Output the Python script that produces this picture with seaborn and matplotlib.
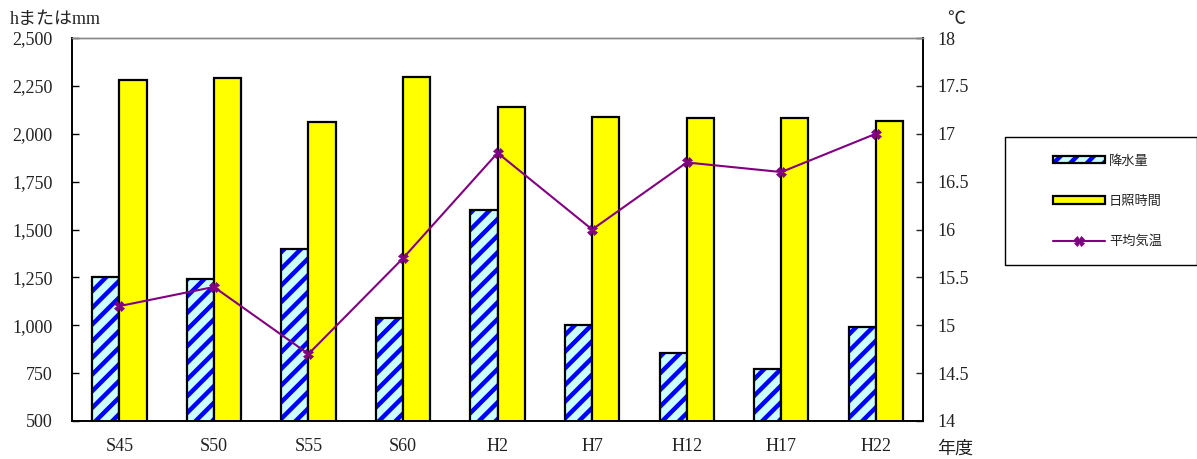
import numpy as np
import pandas as pd
import matplotlib
matplotlib.use('Agg')
import matplotlib.pyplot as plt
from matplotlib.colors import to_rgba
from matplotlib.patches import Rectangle
from matplotlib.ticker import FixedLocator, StrMethodFormatter, FormatStrFormatter
import seaborn as sns

years = ['S45', 'S50', 'S55', 'S60', 'H2', 'H7', 'H12', 'H17', 'H22']
rain = [1250, 1240, 1400, 1040, 1600, 1000, 855, 770, 990]
sunshine = [2280, 2290, 2060, 2295, 2140, 2090, 2080, 2080, 2065]
temp = [15.2, 15.4, 14.7, 15.7, 16.8, 16.0, 16.7, 16.6, 17.0]

sns.set_style('white')
plt.rcParams['font.family'] = ['Liberation Serif', 'Noto Sans CJK JP']
plt.rcParams['hatch.linewidth'] = 3.2

df = pd.DataFrame({'年度': years * 2,
                   'value': rain + sunshine,
                   'series': ['降水量'] * len(years) + ['日照時間'] * len(years)})

fig = plt.figure(figsize=(11.97, 4.59), dpi=100)
ax = fig.add_axes([0.0602, 0.0828, 0.7110, 0.8344])

sns.barplot(data=df, x='年度', y='value', hue='series',
            palette={'降水量': '#CCFFFF', '日照時間': '#FFFF00'},
            saturation=1, edgecolor='black', linewidth=1.6, width=0.575,
            legend=False, ax=ax)

# blue stripes on the rainfall bars
for p in ax.containers[0]:
    p.set_hatch('//')
    p._hatch_color = to_rgba('#0000FF')

ax.set_ylim(500, 2500)
ax.set_xlim(-0.5, len(years) - 0.5)
ax.yaxis.set_major_locator(FixedLocator(np.arange(500, 2501, 250)))
ax.yaxis.set_major_formatter(StrMethodFormatter('{x:,.0f}'))
ax.set_xlabel('')
ax.set_ylabel('')
ax.tick_params(axis='x', which='major', length=0, labelsize=13, pad=12, colors='#222222')
ax.xaxis.set_minor_locator(FixedLocator(np.arange(0.5, len(years) - 1, 1)))
ax.tick_params(axis='x', which='minor', direction='in', length=4, color='#777777')
ax.tick_params(axis='y', direction='in', length=5, width=1, left=True,
               labelsize=13, colors='black', labelcolor='#222222', pad=14)

ax2 = ax.twinx()
sns.lineplot(x=np.arange(len(years)), y=temp, color='#800080', lw=1.5,
             marker='X', markersize=6.5, markeredgewidth=0.5,
             markeredgecolor='#800080', ax=ax2)
ax2.set_ylim(14, 18)
ax2.yaxis.set_major_locator(FixedLocator(np.arange(14, 18.01, 0.5)))
ax2.yaxis.set_major_formatter(FormatStrFormatter('%g'))
ax2.tick_params(axis='y', direction='in', length=5, width=1, right=True,
                labelsize=13, labelcolor='#222222', pad=10)

for a in (ax, ax2):
    for s in ['left', 'right', 'bottom']:
        a.spines[s].set_color('black')
        a.spines[s].set_linewidth(1.2)
    a.spines['top'].set_color('#888888')
    a.spines['top'].set_linewidth(1)

fig.text(0.008, 0.957, 'hまたはmm', fontsize=13, color='#222222', va='center')
fig.text(0.791, 0.957, '℃', fontsize=13, color='#222222', va='center')
fig.text(0.783, 0.022, '年度', fontsize=13, color='#222222', va='center')

# legend box sits to the right of the plot
fig.add_artist(Rectangle((0.8396, 0.423), 0.1604, 0.279, transform=fig.transFigure,
                         facecolor='white', edgecolor='black', lw=1))
handles = [ax.containers[0][0], ax.containers[1][0], ax2.lines[0]]
leg = fig.legend(handles, ['降水量', '日照時間', '平均気温'],
                 loc='upper left', bbox_to_anchor=(0.8764, 0.672),
                 frameon=False,
                 prop={'family': ['Noto Sans CJK JP'], 'size': 9.5},
                 handlelength=3.95, handleheight=0.45, labelspacing=2.06,
                 borderpad=0.3, handletextpad=0.3, borderaxespad=0)

fig.savefig('out.png', dpi=100)
